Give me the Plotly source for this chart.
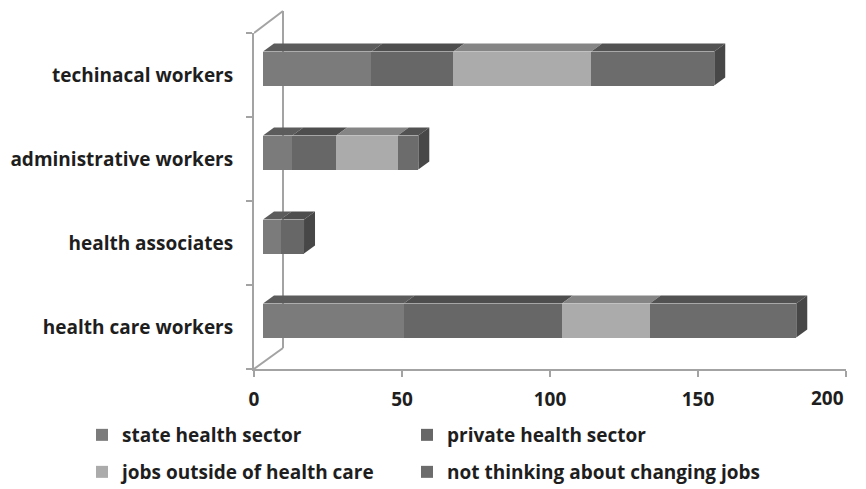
import plotly.graph_objects as go

# ---------------- data ----------------
categories = ["health care workers", "health associates", "administrative workers", "techinacal workers"]
series_names = ["state health sector", "private health sector",
                "jobs outside of health care", "not thinking about changing jobs"]
state_health = [48, 6, 10, 37]
private_health = [54, 8, 15, 28]
jobs_outside = [30, 0, 21, 47]
not_thinking = [50, 0, 7, 42]
x_ticks = [0, 50, 100, 150, 200]
x_tick_labels = ["0", "50", "100", "150", "200"]

series_values = [state_health, private_health, jobs_outside, not_thinking]

# ---------------- styles ----------------
front_colors = ["#7b7b7b", "#676767", "#ababab", "#6c6c6c"]
top_colors = ["#5c5c5c", "#4e4e4e", "#858585", "#525252"]
side_color = "#474747"
axis_color = "#a3a3a3"
text_color = "#1e1e1e"
FONT = "Open Sans"
FSIZE = 19

W, H = 866, 489
L, R, T, B = 254, 20, 33, 120
plot_w = W - L - R          # 592 px
plot_h = H - T - B          # 336 px
px_per_unit_front = plot_w / (x_ticks[-1] - x_ticks[0])

# bars sit a little behind the front plane (3-D look)
bar_px_per_unit = 2.93
bar_shift_px = 9
bar_up_px = 6.5
band_px = plot_h / len(categories)
bar_width = 34 / band_px
depth_dx = 11 / bar_px_per_unit
depth_dy = 8 / band_px

x2_min = -bar_shift_px / bar_px_per_unit
x2_range = [x2_min, x2_min + plot_w / bar_px_per_unit]
y2_shift = bar_up_px / band_px
y2_range = [-0.5 - y2_shift, len(categories) - 0.5 - y2_shift]

# legend layout: two columns, two rows (container pixels)
legend_cols_px = [82, 407]
legend_rows_px = [435, 472]
legend_ids = ["legend", "legend2", "legend3", "legend4"]

fig = go.Figure()

fig.add_trace(go.Scatter(x=[0] * len(categories), y=categories, mode="markers",
                         marker=dict(opacity=0), showlegend=False, hoverinfo="skip",
                         xaxis="x", yaxis="y"))

for k, (name, vals) in enumerate(zip(series_names, series_values)):
    fig.add_trace(go.Bar(
        y=categories, x=vals, name=name, orientation="h",
        marker=dict(color=front_colors[k], line=dict(width=0)),
        width=bar_width, xaxis="x2", yaxis="y2",
        legend=legend_ids[k],
    ))

shapes = []
back_x = 29 / px_per_unit_front
shapes.append(dict(type="line", xref="x", yref="paper", x0=0, y0=1, x1=back_x, y1=1 + 22 / plot_h,
                   line=dict(color=axis_color, width=2), layer="below"))
shapes.append(dict(type="line", xref="x", yref="paper", x0=back_x, y0=1 + 22 / plot_h, x1=back_x, y1=21 / plot_h,
                   line=dict(color=axis_color, width=2), layer="below"))
shapes.append(dict(type="line", xref="x", yref="paper", x0=back_x, y0=21 / plot_h, x1=0, y1=0,
                   line=dict(color=axis_color, width=2), layer="below"))

for i, cat in enumerate(categories):
    start = 0
    top = i + bar_width / 2
    bottom = i - bar_width / 2
    last_end = 0
    for k, vals in enumerate(series_values):
        v = vals[i]
        if v <= 0:
            continue
        end = start + v
        path = (f"M {start},{top} L {end},{top} L {end + depth_dx},{top + depth_dy} "
                f"L {start + depth_dx},{top + depth_dy} Z")
        shapes.append(dict(type="path", xref="x2", yref="y2", path=path,
                           fillcolor=top_colors[k], line=dict(width=0), layer="above"))
        start = end
        last_end = end
    path = (f"M {last_end},{bottom} L {last_end},{top} L {last_end + depth_dx},{top + depth_dy} "
            f"L {last_end + depth_dx},{bottom + depth_dy} Z")
    shapes.append(dict(type="path", xref="x2", yref="y2", path=path,
                       fillcolor=side_color, line=dict(width=0), layer="above"))

legends = {}
for k, lid in enumerate(legend_ids):
    legends[lid] = dict(orientation="h", xref="container", yref="container",
                        x=legend_cols_px[k % 2] / W, xanchor="left",
                        y=(H - legend_rows_px[k // 2]) / H, yanchor="middle",
                        font=dict(family=FONT, size=FSIZE, color=text_color, weight="bold"),
                        bgcolor="rgba(0,0,0,0)", itemclick=False)

# the last tick label is right-aligned to its tick (as in the reference)
shown_tick_text = x_tick_labels[:-1] + [""]
annotations = [dict(xref="x", yref="paper", x=x_ticks[-1], y=0, yshift=-14,
                    text=x_tick_labels[-1], showarrow=False, xanchor="right", yanchor="top",
                    font=dict(family=FONT, size=FSIZE, color=text_color, weight="bold"))]

fig.update_layout(
    width=W, height=H,
    margin=dict(l=L, r=R, t=T, b=B, autoexpand=False),
    paper_bgcolor="white", plot_bgcolor="white",
    barmode="stack", bargap=0,
    font=dict(family=FONT, size=FSIZE, color=text_color, weight="bold"),
    xaxis=dict(range=[x_ticks[0], x_ticks[-1]], tickvals=x_ticks, ticktext=shown_tick_text,
               showgrid=False, zeroline=False,
               showline=True, linecolor=axis_color, linewidth=2, ticks="outside", ticklen=6,
               tickcolor=axis_color, tickwidth=2, tickfont=dict(size=FSIZE, weight="bold"),
               ticklabelstandoff=6, automargin=False, fixedrange=True),
    yaxis=dict(type="category", categoryorder="array", categoryarray=categories,
               range=[-0.5, len(categories) - 0.5], tickson="boundaries", ticks="outside",
               ticklen=6, tickcolor=axis_color, tickwidth=2, showline=True, linecolor=axis_color,
               linewidth=2, showgrid=False, zeroline=False, ticklabelstandoff=15,
               tickfont=dict(size=FSIZE, weight="bold"), automargin=False, fixedrange=True),
    xaxis2=dict(range=x2_range, overlaying="x", visible=False, fixedrange=True),
    yaxis2=dict(type="category", categoryorder="array", categoryarray=categories,
                range=y2_range, overlaying="y", visible=False, fixedrange=True),
    shapes=shapes,
    annotations=annotations,
    showlegend=True,
    **legends,
)

fig.write_html("out.html")
